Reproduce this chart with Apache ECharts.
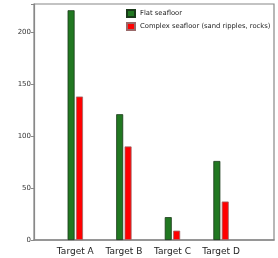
<!DOCTYPE html>
<html><head><meta charset="utf-8">
<script src="https://cdn.jsdelivr.net/npm/echarts@6/dist/echarts.min.js"></script>
<style>html,body{margin:0;padding:0;background:#fff}#c{width:278px;height:258px}</style>
</head><body><div id="c"></div>
<script>
const categories = ['Target A', 'Target B', 'Target C', 'Target D'];
const flatSeafloor = [221, 121, 22, 76];
const complexSeafloor = [138, 90, 9, 37];
const yTicks = [0, 50, 100, 150, 200];
const seriesNames = ['Flat seafloor', 'Complex seafloor (sand ripples, rocks)'];

const chart = echarts.init(document.getElementById('c'), null, {renderer: 'canvas'});
const toPairs = arr => arr.map((v, i) => [i, v]);
chart.setOption({
  animation: false,
  backgroundColor: '#fff',
  grid: {left: 34, right: 4, top: 4, bottom: 18, show: true, borderColor: '#888', borderWidth: 1.2, backgroundColor: 'transparent'},
  legend: {
    orient: 'vertical', left: 126, top: 9, padding: 0, itemWidth: 8, itemHeight: 7, itemGap: 4,
    icon: 'rect',
    textStyle: {fontSize: 6.8, color: '#222', fontFamily: 'DejaVu Sans', padding: [0, 0, 0, 0]},
    data: seriesNames
  },
  xAxis: {
    type: 'value', min: -0.85, max: 4.09,
    splitLine: {show: false},
    axisLine: {show: true, onZero: false, lineStyle: {color: '#888', width: 1.5}},
    axisTick: {show: false},
    axisLabel: {
      customValues: [0, 1, 2, 3],
      formatter: v => categories[Math.round(v)] || '',
      fontSize: 9, color: '#222', fontFamily: 'DejaVu Sans', margin: 7
    }
  },
  yAxis: {
    type: 'value', min: 0, max: 227, interval: 50,
    splitLine: {show: false},
    axisLine: {show: true, onZero: false, lineStyle: {color: '#888', width: 1.2}},
    axisTick: {show: true, length: 3, lineStyle: {color: '#888'}},
    axisLabel: {
      customValues: yTicks,
      fontSize: 7, color: '#333', fontFamily: 'DejaVu Sans', margin: 3
    }
  },
  series: [
    {name: seriesNames[0], type: 'bar', data: toPairs(flatSeafloor), barWidth: 7, barGap: '20%',
     itemStyle: {color: '#217821', borderColor: '#1a3a1a', borderWidth: 0.8}},
    {name: seriesNames[1], type: 'bar', data: toPairs(complexSeafloor), barWidth: 7, barGap: '20%',
     itemStyle: {color: '#ff0000', borderColor: '#9a6a6a', borderWidth: 0.8}}
  ]
});
</script></body></html>
